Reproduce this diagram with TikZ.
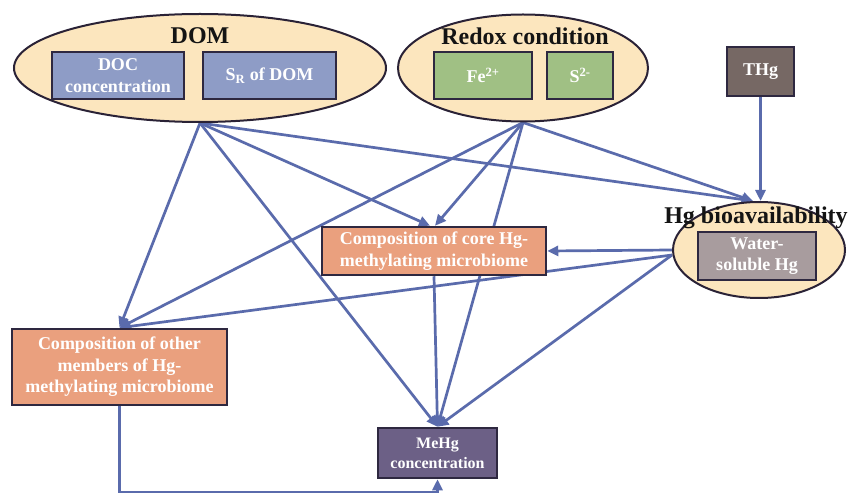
\documentclass[tikz,border=0pt]{standalone}
\usepackage{fontspec}
\setmainfont{Liberation Serif}
\usetikzlibrary{arrows.meta,shapes.geometric,backgrounds,calc}
\definecolor{edgeblue}{HTML}{5A6BAC}
\definecolor{ellfill}{HTML}{FCE6BE}
\definecolor{ellborder}{HTML}{2A2236}
\definecolor{boxborder}{HTML}{2E2840}
\definecolor{domblue}{HTML}{8E9CC6}
\definecolor{redoxgreen}{HTML}{A0C084}
\definecolor{thgcol}{HTML}{766864}
\definecolor{watercol}{HTML}{A89C9E}
\definecolor{orangecol}{HTML}{EAA07E}
\definecolor{mehgcol}{HTML}{6C6086}
\definecolor{titlecol}{HTML}{141414}
\begin{document}
\begin{tikzpicture}[x=1pt,y=-1pt,
  ell/.style={ellipse,draw=ellborder,fill=ellfill,line width=2pt,inner sep=0pt},
  box/.style={draw=boxborder,line width=2.5pt,inner sep=0pt,align=center,text=white,
    font=\bfseries\fontsize{18}{21.5}\selectfont},
  title/.style={font=\bfseries\fontsize{24}{28}\selectfont,text=titlecol,inner sep=0pt},
  link/.style={draw=edgeblue,line width=2.7pt,-{Triangle[length=11pt,width=10pt]}}]
\useasboundingbox (0,0) rectangle (854,494);
% ellipses
\node[ell,minimum width=372pt,minimum height=108pt] (dom) at (200,68) {};
\node[ell,minimum width=250pt,minimum height=107pt] (redox) at (523,68) {};
\node[ell,minimum width=172pt,minimum height=96pt] (hg) at (759,250) {};
% titles
\node[title] (domt) at (200,36) {DOM};
\node[title] (redoxt) at (525,36) {Redox condition};
\node[title] (hgt) at (756,218) {Hg bioavailability};
% boxes
\node[box,fill=domblue,minimum width=132pt,minimum height=47pt] (doc) at (118,75.5) {DOC\\concentration};
\node[box,fill=domblue,minimum width=133pt,minimum height=47pt] (sr) at (269.5,75.5) {S\textsubscript{R} of DOM};
\node[box,fill=redoxgreen,minimum width=98pt,minimum height=47pt] (fe) at (483,75.5) {Fe\textsuperscript{2+}};
\node[box,fill=redoxgreen,minimum width=66pt,minimum height=47pt] (s2) at (580,75.5) {S\textsuperscript{2-}};
\node[box,fill=thgcol,minimum width=67pt,minimum height=49pt] (thg) at (760.5,71.5) {THg};
\node[box,fill=watercol,minimum width=118pt,minimum height=48pt] (water) at (757,256) {Water-\\soluble Hg};
\node[box,fill=orangecol,minimum width=224pt,minimum height=48pt] (core) at (434,251) {Composition of core Hg-\\methylating microbiome};
\node[box,fill=orangecol,minimum width=215pt,minimum height=76pt] (other) at (119.5,367) {Composition of other\\members of Hg-\\methylating microbiome};
\node[box,fill=mehgcol,minimum width=119pt,minimum height=50pt,font=\bfseries\fontsize{16}{20}\selectfont] (mehg) at (437.5,453) {MeHg\\concentration};
\coordinate (hgtop) at ($(hg.north)+(-6,0)$);
\coordinate (b1) at (119.5,492);
\coordinate (b2) at (437.5,492);
% connectors
\begin{scope}[on background layer]
\fill[white] (0,0) rectangle (854,494);
\draw[link] (dom.south) -- (other.north);
\draw[link] (dom.south) -- (mehg.north);
\draw[link] (dom.south) -- ([xshift=-4pt]core.north);
\draw[link] (dom.south) -- (hgtop);
\draw[link] (redox.south) -- (other.north);
\draw[link] (redox.south) -- ([xshift=1pt]core.north);
\draw[link] (redox.south) -- (mehg.north);
\draw[link] (redox.south) -- (hgtop);
\draw[link] (thg.south) -- (thg.south |- hg.north);
\draw[link] (hg.west) -- (core.east);
\draw[link] ([yshift=-5pt]hg.west) -- (other.north);
\draw[link] ([yshift=-5pt]hg.west) -- (mehg.north);
\draw[link] (core.south) -- (mehg.north);
\draw[link] (other.south) -- (b1) -- (b2) -- (mehg.south);
\end{scope}
\end{tikzpicture}
\end{document}
